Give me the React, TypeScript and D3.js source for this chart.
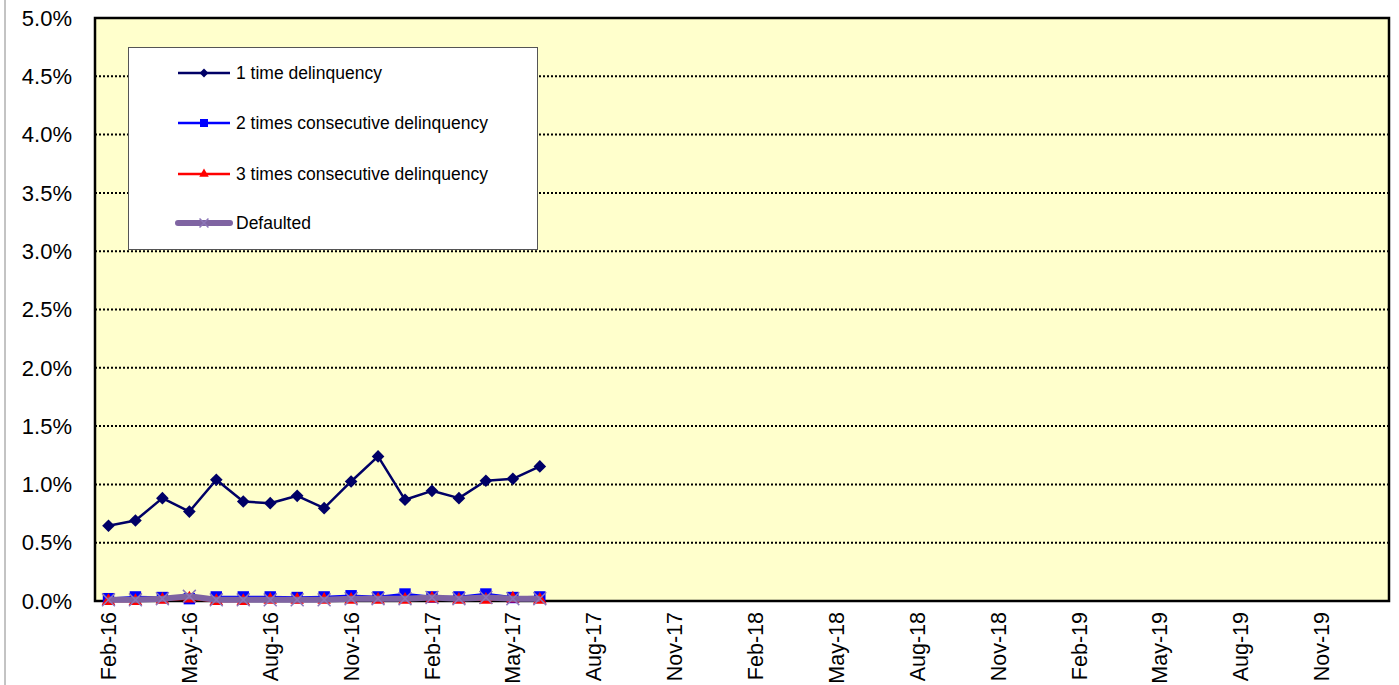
import React from 'react';
import * as d3 from 'd3';

// category axis: monthly, Feb-16 .. Jan-20
const months = [
  'Feb-16', 'Mar-16', 'Apr-16', 'May-16', 'Jun-16', 'Jul-16', 'Aug-16', 'Sep-16', 'Oct-16', 'Nov-16', 'Dec-16', 'Jan-17',
  'Feb-17', 'Mar-17', 'Apr-17', 'May-17', 'Jun-17', 'Jul-17', 'Aug-17', 'Sep-17', 'Oct-17', 'Nov-17', 'Dec-17', 'Jan-18',
  'Feb-18', 'Mar-18', 'Apr-18', 'May-18', 'Jun-18', 'Jul-18', 'Aug-18', 'Sep-18', 'Oct-18', 'Nov-18', 'Dec-18', 'Jan-19',
  'Feb-19', 'Mar-19', 'Apr-19', 'May-19', 'Jun-19', 'Jul-19', 'Aug-19', 'Sep-19', 'Oct-19', 'Nov-19', 'Dec-19', 'Jan-20',
];
const tickLabels = ['Feb-16', 'May-16', 'Aug-16', 'Nov-16', 'Feb-17', 'May-17', 'Aug-17', 'Nov-17', 'Feb-18', 'May-18',
  'Aug-18', 'Nov-18', 'Feb-19', 'May-19', 'Aug-19', 'Nov-19'];
const yTicks = [0, 0.005, 0.01, 0.015, 0.02, 0.025, 0.03, 0.035, 0.04, 0.045, 0.05];

// values in %
const oneTime = [0.645, 0.69, 0.882, 0.767, 1.04, 0.853, 0.839, 0.902, 0.796, 1.025, 1.24, 0.868, 0.945, 0.882, 1.031, 1.048, 1.154];
const twoTimes = [0.02, 0.035, 0.03, 0.02, 0.035, 0.035, 0.035, 0.03, 0.035, 0.045, 0.035, 0.06, 0.035, 0.035, 0.06, 0.03, 0.035];
const threeTimes = [0.0, 0.0, 0.01, 0.02, 0.0, 0.0, 0.01, 0.01, 0.01, 0.01, 0.01, 0.01, 0.02, 0.01, 0.01, 0.02, 0.01];
const defaulted = [0.01, 0.01, 0.02, 0.04, 0.01, 0.01, 0.01, 0.01, 0.01, 0.02, 0.02, 0.02, 0.03, 0.02, 0.03, 0.02, 0.02];

const FONT = "Arial, 'Liberation Sans', sans-serif";

const series = [
  { name: '1 time delinquency', values: oneTime, color: '#000066', width: 2.5, marker: 'diamond' },
  { name: '2 times consecutive delinquency', values: twoTimes, color: '#0000FF', width: 2.5, marker: 'square' },
  { name: '3 times consecutive delinquency', values: threeTimes, color: '#FF0000', width: 2.5, marker: 'triangle' },
  { name: 'Defaulted', values: defaulted, color: '#7F64A2', width: 6, marker: 'x' },
];

const W = 1399, H = 685;
const left = 95, right = 1389, top = 18, bottom = 601;

function Marker({ kind, color, x, y, scale = 1 }: { kind: string; color: string; x: number; y: number; scale?: number }) {
  if (kind === 'diamond') {
    const p = d3.symbol(d3.symbolSquare, 80 * scale * scale)();
    return <path d={p || ''} transform={`translate(${x},${y}) rotate(45)`} fill={color} />;
  }
  if (kind === 'square') {
    const p = d3.symbol(d3.symbolSquare, 130 * scale * scale)();
    return <path d={p || ''} transform={`translate(${x},${y})`} fill={color} />;
  }
  if (kind === 'triangle') {
    const p = d3.symbol(d3.symbolTriangle, 80 * scale * scale)();
    return <path d={p || ''} transform={`translate(${x},${y})`} fill={color} />;
  }
  const p = d3.symbol(d3.symbolX, 110 * scale * scale)();
  return <path d={p || ''} transform={`translate(${x},${y})`} fill="none" stroke="#8C76B8" strokeWidth={1.5} />;
}

const App: React.FC = () => {
  const x = d3.scaleBand<string>().domain(months).range([left, right]);
  const y = d3.scaleLinear().domain([0, 0.05]).range([bottom, top]);
  const cx = (m: string) => (x(m) ?? 0) + x.bandwidth() / 2;

  const line = d3.line<number>()
    .x((_, i) => cx(months[i]))
    .y(d => y(d / 100));

  const legendRows = [73, 123, 174, 223];

  return (
    <div style={{ position: 'absolute', left: 0, top: 0 }}>
      <svg width={W} height={H} viewBox={`0 0 ${W} ${H}`} style={{ display: 'block' }}>
        <rect x={0} y={0} width={W} height={H} fill="#fff" />
        <line x1={5} x2={5} y1={0} y2={H} stroke="#888" strokeWidth={1} />

        <rect x={left} y={top} width={right - left} height={bottom - top} fill="#FFFFCC" />

        {yTicks.slice(1, -1).map(t => (
          <line key={t} x1={left} x2={right} y1={y(t)} y2={y(t)} stroke="#000" strokeWidth={2} strokeDasharray="2,2" />
        ))}

        <rect x={left} y={top} width={right - left} height={bottom - top} fill="none" stroke="#000" strokeWidth={2.5} />

        {yTicks.map(t => (
          <text key={t} x={72} y={y(t)} dy="0.35em" textAnchor="end" fontFamily={FONT} fontSize={22} fill="#000">
            {d3.format('.1%')(t)}
          </text>
        ))}

        {tickLabels.map(m => (
          <text key={m} transform={`translate(${cx(m)},612) rotate(-90)`} dy="0.35em" textAnchor="end"
            fontFamily={FONT} fontSize={21.5} fill="#000">
            {m}
          </text>
        ))}

        {series.map(s => (
          <g key={s.name}>
            <path d={line(s.values) || ''} fill="none" stroke={s.color} strokeWidth={s.width} strokeLinejoin="round" />
            {s.values.map((v, i) => (
              <Marker key={i} kind={s.marker} color={s.color} x={cx(months[i])} y={y(v / 100)} />
            ))}
          </g>
        ))}

        <rect x={128.5} y={47.5} width={409} height={202} fill="#fff" stroke="#555" strokeWidth={1} />
        {series.map((s, i) => (
          <g key={s.name}>
            <line x1={178} x2={230} y1={legendRows[i]} y2={legendRows[i]} stroke={s.color} strokeWidth={s.width}
              strokeLinecap={s.width > 3 ? 'round' : 'butt'} />
            <Marker kind={s.marker} color={s.color} x={204} y={legendRows[i]} scale={0.7} />
            <text x={236} y={legendRows[i]} dy="0.35em" fontFamily={FONT} fontSize={17.5} fill="#000">{s.name}</text>
          </g>
        ))}
      </svg>
    </div>
  );
};

export default App;
